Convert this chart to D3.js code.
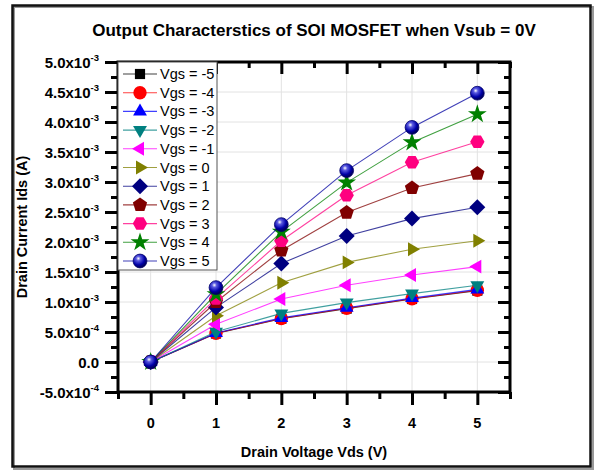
<!DOCTYPE html>
<html><head><meta charset="utf-8">
<script src="https://cdn.jsdelivr.net/npm/d3@7/dist/d3.min.js"></script>
<style>
html,body{margin:0;padding:0;background:#fff;}
svg{display:block;font-family:"Liberation Sans",Arial,sans-serif;}
</style></head>
<body><svg id="chart" width="596" height="472"></svg>
<script>
// ---------- data ----------
const vds = [0, 1, 2, 3, 4, 5];
const seriesNames = ["Vgs = -5","Vgs = -4","Vgs = -3","Vgs = -2","Vgs = -1","Vgs = 0","Vgs = 1","Vgs = 2","Vgs = 3","Vgs = 4","Vgs = 5"];
const idsVgsM5 = [0, 0.475e-3, 0.72e-3, 0.89e-3, 1.05e-3, 1.19e-3];
const idsVgsM4 = [0, 0.48e-3, 0.725e-3, 0.895e-3, 1.055e-3, 1.195e-3];
const idsVgsM3 = [0, 0.485e-3, 0.735e-3, 0.905e-3, 1.065e-3, 1.21e-3];
const idsVgsM2 = [0, 0.505e-3, 0.81e-3, 0.99e-3, 1.14e-3, 1.28e-3];
const idsVgsM1 = [0, 0.63e-3, 1.05e-3, 1.28e-3, 1.45e-3, 1.59e-3];
const idsVgs0  = [0, 0.77e-3, 1.32e-3, 1.66e-3, 1.88e-3, 2.02e-3];
const idsVgs1  = [0, 0.91e-3, 1.64e-3, 2.10e-3, 2.39e-3, 2.58e-3];
const idsVgs2  = [0, 1.00e-3, 1.86e-3, 2.49e-3, 2.90e-3, 3.14e-3];
const idsVgs3  = [0, 1.06e-3, 2.02e-3, 2.78e-3, 3.33e-3, 3.67e-3];
const idsVgs4  = [0, 1.13e-3, 2.17e-3, 2.99e-3, 3.66e-3, 4.13e-3];
const idsVgs5  = [0, 1.24e-3, 2.29e-3, 3.19e-3, 3.91e-3, 4.48e-3];
const seriesValues = [idsVgsM5, idsVgsM4, idsVgsM3, idsVgsM2, idsVgsM1, idsVgs0, idsVgs1, idsVgs2, idsVgs3, idsVgs4, idsVgs5];
const seriesColors = ["#000000","#ff0000","#0000ff","#008080","#ff00ff","#808000","#000080","#800000","#ff0080","#008000","#0000a0"];
const seriesMarkers = ["square","circle","triUp","triDown","triLeft","triRight","diamond","pentagon","hexagon","star","sphere"];
const xTickValues = [0, 1, 2, 3, 4, 5];
const xTickLabels = ["0","1","2","3","4","5"];
const yTickValues = [-0.5e-3, 0, 0.5e-3, 1.0e-3, 1.5e-3, 2.0e-3, 2.5e-3, 3.0e-3, 3.5e-3, 4.0e-3, 4.5e-3, 5.0e-3];
const yTickBase = ["-5.0x10","0.0","5.0x10","1.0x10","1.5x10","2.0x10","2.5x10","3.0x10","3.5x10","4.0x10","4.5x10","5.0x10"];
const yTickExp  = ["-4","","-4","-3","-3","-3","-3","-3","-3","-3","-3","-3"];
const titleText = "Output Characterstics of SOI MOSFET when Vsub = 0V";
const xTitle = "Drain Voltage Vds (V)";
const yTitle = "Drain Current Ids (A)";

// ---------- layout ----------
const svg = d3.select("#chart");
const plot = {left:118, right:510, top:62, bottom:392};
const x = d3.scaleLinear().domain([-0.5, 5.5]).range([plot.left, plot.right]);
const y = d3.scaleLinear().domain([-0.5e-3, 5.0e-3]).range([plot.bottom, plot.top]);

const defs = svg.append("defs");
const grad = defs.append("radialGradient").attr("id","sph").attr("cx","38%").attr("cy","32%").attr("r","65%");
grad.append("stop").attr("offset","0%").attr("stop-color","#ffffff");
grad.append("stop").attr("offset","25%").attr("stop-color","#5a5ae0");
grad.append("stop").attr("offset","70%").attr("stop-color","#0000a8");
grad.append("stop").attr("offset","100%").attr("stop-color","#00005a");

// outer frame
svg.append("rect").attr("x",14).attr("y",7).attr("width",579).attr("height",462).attr("fill","none").attr("stroke","#999").attr("stroke-width",2);
svg.append("rect").attr("x",12.5).attr("y",5.5).attr("width",578).attr("height",461).attr("fill","none").attr("stroke","#111").attr("stroke-width",2.5);

// grid
const xMinor = d3.range(-0.5, 5.51, 0.5);
const yMinor = d3.range(-0.5e-3, 5.0001e-3, 0.25e-3);
const g = svg.append("g");
g.selectAll(".gx").data(xTickValues).join("line")
  .attr("x1",d=>x(d)).attr("x2",d=>x(d)).attr("y1",plot.top).attr("y2",plot.bottom)
  .attr("stroke","#e2e2e2").attr("stroke-width",1);
g.selectAll(".gy").data(yTickValues.slice(1,-1)).join("line")
  .attr("x1",plot.left).attr("x2",plot.right).attr("y1",d=>y(d)).attr("y2",d=>y(d))
  .attr("stroke","#e2e2e2").attr("stroke-width",1);

// axes via d3 axes
const isMajorX = v => Math.abs(v - Math.round(v)) < 1e-9 && v >= 0 && v <= 5;
const isMajorY = v => yTickValues.some(t => Math.abs(t - v) < 1e-9);
function styleAxis(sel){
  sel.select(".domain").remove();
  sel.selectAll("line").attr("stroke","#000").attr("stroke-width",3);
}
const axB = svg.append("g").attr("transform",`translate(0,${plot.bottom})`)
  .call(d3.axisBottom(x).tickValues(xMinor).tickSize(0).tickFormat(""));
axB.selectAll(".tick line").attr("y2",d=>isMajorX(d)?13:7);
styleAxis(axB);
const axT = svg.append("g").attr("transform",`translate(0,${plot.top})`)
  .call(d3.axisTop(x).tickValues(xMinor).tickSize(0).tickFormat(""));
axT.selectAll(".tick line").attr("y2",d=>isMajorX(d)?12:6);
styleAxis(axT);
const axL = svg.append("g").attr("transform",`translate(${plot.left},0)`)
  .call(d3.axisLeft(y).tickValues(yMinor).tickSize(0).tickFormat(""));
axL.selectAll(".tick line").attr("x2",d=>isMajorY(d)?-13:-7);
styleAxis(axL);
const axR = svg.append("g").attr("transform",`translate(${plot.right},0)`)
  .call(d3.axisRight(y).tickValues(yMinor).tickSize(0).tickFormat(""));
axR.selectAll(".tick line").attr("x2",d=>isMajorY(d)?-12:-6);
styleAxis(axR);

svg.append("rect").attr("x",plot.left).attr("y",plot.top).attr("width",plot.right-plot.left).attr("height",plot.bottom-plot.top)
  .attr("fill","none").attr("stroke","#000").attr("stroke-width",3);

// tick labels
svg.append("g").selectAll("text").data(xTickValues).join("text")
  .attr("x",d=>x(d)).attr("y",428).attr("text-anchor","middle")
  .attr("font-size",14.5).attr("font-weight","bold").text((d,i)=>xTickLabels[i]);
const yl = svg.append("g").selectAll("text").data(yTickValues).join("text")
  .attr("x",99).attr("y",d=>y(d)+5.5).attr("text-anchor","end")
  .attr("font-size",15).attr("font-weight","bold");
yl.each(function(d,i){
  const t = d3.select(this);
  t.append("tspan").text(yTickBase[i]);
  if (yTickExp[i]) t.append("tspan").attr("font-size",9.5).attr("dy",-7).text(yTickExp[i]);
});

// titles
svg.append("text").attr("x",314).attr("y",36).attr("text-anchor","middle")
  .attr("font-size",17).attr("font-weight","bold").text(titleText);
svg.append("text").attr("x",314).attr("y",457).attr("text-anchor","middle")
  .attr("font-size",14.5).attr("font-weight","bold").text(xTitle);
svg.append("text").attr("transform",`translate(27,${(plot.top+plot.bottom)/2}) rotate(-90)`).attr("text-anchor","middle")
  .attr("font-size",14.5).attr("font-weight","bold").text(yTitle);

// marker generator
function poly(n, r, rot){
  const pts = d3.range(n).map(k => {
    const a = rot + k * 2 * Math.PI / n;
    return [r*Math.cos(a), r*Math.sin(a)];
  });
  return "M" + pts.map(p=>p[0].toFixed(2)+","+p[1].toFixed(2)).join("L") + "Z";
}
function markerPath(type){
  switch(type){
    case "square": return poly(4, 7.2, Math.PI/4);
    case "circle": return d3.symbol(d3.symbolCircle, 140)();
    case "triUp": return poly(3, 8, -Math.PI/2);
    case "triDown": return poly(3, 8, Math.PI/2);
    case "triLeft": return poly(3, 8, Math.PI);
    case "triRight": return poly(3, 8, 0);
    case "diamond": return poly(4, 8, -Math.PI/2);
    case "pentagon": return poly(5, 7.5, -Math.PI/2);
    case "hexagon": return poly(6, 7.2, 0);
    case "star": return d3.symbol(d3.symbolStar, 110)();
    case "sphere": return d3.symbol(d3.symbolCircle, 150)();
  }
}
function drawMarker(sel, i){
  sel.append("path").attr("d", markerPath(seriesMarkers[i]))
    .attr("fill", seriesMarkers[i]==="sphere" ? "url(#sph)" : seriesColors[i])
    .attr("stroke", seriesMarkers[i]==="sphere" ? "#00006a" : "none").attr("stroke-width",0.8);
}

// series
const line = d3.line().x((d,j)=>x(vds[j])).y(d=>y(d));
const sg = svg.append("g");
seriesValues.forEach((vals,i)=>{
  sg.append("path").attr("d",line(vals)).attr("fill","none")
    .attr("stroke",seriesColors[i]).attr("stroke-opacity",0.75).attr("stroke-width",1.1);
  vals.forEach((v,j)=>{
    const m = sg.append("g").attr("transform",`translate(${x(vds[j])},${y(v)})`);
    drawMarker(m,i);
  });
});

// legend
const leg = svg.append("g");
const lg = {x:118, y:62, w:99, h:208, row:18.7, first:74};
leg.append("rect").attr("x",lg.x).attr("y",lg.y).attr("width",lg.w).attr("height",lg.h)
  .attr("fill","#fff").attr("stroke","#555").attr("stroke-width",1);
seriesNames.forEach((name,i)=>{
  const yy = lg.first + i*lg.row;
  leg.append("line").attr("x1",123).attr("x2",157).attr("y1",yy).attr("y2",yy)
    .attr("stroke",seriesColors[i]).attr("stroke-opacity",0.75).attr("stroke-width",1.1);
  const m = leg.append("g").attr("transform",`translate(140,${yy})`);
  drawMarker(m,i);
  leg.append("text").attr("x",160).attr("y",yy+5).attr("font-size",14.5).text(name);
});
</script></body></html>
